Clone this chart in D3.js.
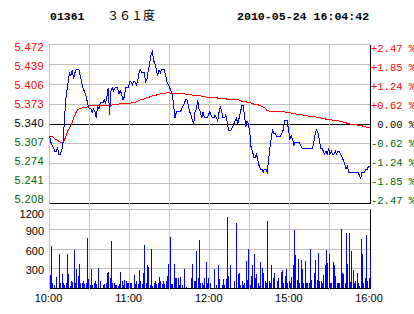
<!DOCTYPE html>
<html>
<head>
<meta charset="utf-8">
<script src="https://cdn.jsdelivr.net/npm/d3@7"></script>
<style>
  body { margin: 0; background: #fff; }
  svg { display: block; }
  text { font-family: "Liberation Sans", Arial, sans-serif; }
</style>
</head>
<body>
<svg id="chart" width="414" height="314"></svg>
<script>
// Intraday chart 01361 - minute prices, average price and volume
const stockCode = '01361';
const stockName = '３６１度';
const stamp = '2010-05-24 16:04:42';
const prevClose = 5.34;

const timeLabels = ['10:00', '11:00', '12:00', '15:00', '16:00'];
const timeLabelMinutes = [0, 60, 120, 180, 240];
const gridMinutes = [0, 30, 60, 90, 120, 150, 180, 210, 240];

const priceTicks = [5.472, 5.439, 5.406, 5.373, 5.340, 5.307, 5.274, 5.241, 5.208];
const pctTicks = ['+2.47 %', '+1.85 %', '+1.24 %', '+0.62 %', '\u00a00.00 %', '-0.62 %', '-1.24 %', '-1.85 %', '-2.47 %'];
const volTicks = [300, 600, 900, 1200];

// one value per trading minute (10:00-12:30, 14:30-16:00)
const prices = [
  5.32, 5.31, 5.305, 5.30, 5.295, 5.295, 5.30, 5.29, 5.29, 5.295,
  5.305, 5.34, 5.375, 5.395, 5.41, 5.425, 5.42, 5.43, 5.415, 5.425,
  5.43, 5.43, 5.43, 5.42, 5.41, 5.40, 5.395, 5.39, 5.38, 5.37,
  5.365, 5.365, 5.36, 5.365, 5.36, 5.35, 5.37, 5.365, 5.375, 5.375,
  5.375, 5.38, 5.375, 5.385, 5.40, 5.355, 5.395, 5.40, 5.395, 5.40,
  5.40, 5.40, 5.39, 5.395, 5.39, 5.38, 5.385, 5.40, 5.40, 5.40,
  5.41, 5.41, 5.405, 5.41, 5.41, 5.405, 5.41, 5.425, 5.43, 5.425,
  5.425, 5.425, 5.41, 5.415, 5.43, 5.44, 5.455, 5.46, 5.445, 5.44,
  5.43, 5.42, 5.43, 5.425, 5.43, 5.43, 5.43, 5.42, 5.41, 5.405,
  5.40, 5.395, 5.39, 5.37, 5.35, 5.36, 5.36, 5.36, 5.36, 5.365,
  5.37, 5.375, 5.38, 5.38, 5.37, 5.36, 5.355, 5.345, 5.34, 5.36,
  5.365, 5.38, 5.365, 5.36, 5.35, 5.36, 5.35, 5.35, 5.35, 5.355,
  5.36, 5.355, 5.35, 5.35, 5.355, 5.35, 5.345, 5.36, 5.37, 5.36,
  5.35, 5.35, 5.355, 5.345, 5.33, 5.33, 5.33, 5.335, 5.34, 5.345,
  5.35, 5.34, 5.35, 5.36, 5.37, 5.37, 5.355, 5.335, 5.345, 5.34,
  5.325, 5.30, 5.295, 5.285, 5.285, 5.29, 5.28, 5.27, 5.265, 5.265,
  5.26, 5.265, 5.265, 5.26, 5.28, 5.30, 5.315, 5.33, 5.325, 5.325,
  5.32, 5.32, 5.32, 5.32, 5.325, 5.33, 5.345, 5.345, 5.345, 5.33,
  5.315, 5.32, 5.315, 5.305, 5.31, 5.31, 5.31, 5.31, 5.305, 5.30,
  5.30, 5.30, 5.30, 5.30, 5.30, 5.30, 5.30, 5.30, 5.31, 5.325,
  5.33, 5.325, 5.315, 5.30, 5.30, 5.295, 5.29, 5.295, 5.29, 5.30,
  5.29, 5.295, 5.29, 5.29, 5.295, 5.29, 5.295, 5.295, 5.29, 5.285,
  5.28, 5.275, 5.265, 5.27, 5.26, 5.26, 5.26, 5.26, 5.26, 5.26,
  5.26, 5.26, 5.255, 5.25, 5.26, 5.26, 5.26, 5.265, 5.265, 5.27, 5.27
];

const avgPrices = [
  5.320, 5.320, 5.319, 5.318, 5.315, 5.314, 5.313, 5.311, 5.310, 5.310,
  5.310, 5.313, 5.318, 5.324, 5.330, 5.333, 5.337, 5.343, 5.349, 5.355,
  5.360, 5.363, 5.365, 5.366, 5.366, 5.367, 5.367, 5.368, 5.368, 5.369,
  5.370, 5.370, 5.370, 5.370, 5.370, 5.370, 5.370, 5.370, 5.370, 5.370,
  5.370, 5.370, 5.370, 5.370, 5.370, 5.370, 5.371, 5.372, 5.372, 5.372,
  5.373, 5.373, 5.373, 5.374, 5.374, 5.374, 5.374, 5.374, 5.374, 5.374,
  5.374, 5.375, 5.375, 5.376, 5.376, 5.377, 5.378, 5.379, 5.380, 5.381,
  5.381, 5.382, 5.383, 5.384, 5.384, 5.385, 5.386, 5.387, 5.387, 5.388,
  5.388, 5.389, 5.389, 5.390, 5.390, 5.390, 5.391, 5.391, 5.392, 5.392,
  5.392, 5.391, 5.391, 5.391, 5.391, 5.391, 5.390, 5.390, 5.390, 5.390,
  5.390, 5.390, 5.389, 5.389, 5.389, 5.389, 5.389, 5.388, 5.388, 5.388,
  5.387, 5.387, 5.387, 5.387, 5.386, 5.386, 5.385, 5.385, 5.384, 5.384,
  5.384, 5.384, 5.384, 5.384, 5.384, 5.384, 5.383, 5.383, 5.383, 5.383,
  5.382, 5.382, 5.382, 5.381, 5.381, 5.381, 5.381, 5.381, 5.380, 5.380,
  5.380, 5.380, 5.380, 5.379, 5.378, 5.378, 5.377, 5.377, 5.376, 5.376,
  5.375, 5.375, 5.374, 5.373, 5.373, 5.372, 5.372, 5.371, 5.370, 5.369,
  5.368, 5.367, 5.365, 5.362, 5.362, 5.361, 5.361, 5.361, 5.361, 5.360,
  5.360, 5.360, 5.360, 5.360, 5.360, 5.360, 5.360, 5.359, 5.359, 5.359,
  5.359, 5.358, 5.358, 5.357, 5.357, 5.356, 5.356, 5.356, 5.355, 5.355,
  5.355, 5.354, 5.354, 5.354, 5.353, 5.353, 5.353, 5.353, 5.353, 5.352,
  5.351, 5.351, 5.350, 5.350, 5.349, 5.349, 5.349, 5.348, 5.348, 5.348,
  5.347, 5.347, 5.346, 5.346, 5.346, 5.345, 5.345, 5.345, 5.344, 5.344,
  5.343, 5.342, 5.342, 5.341, 5.341, 5.340, 5.340, 5.340, 5.340, 5.339,
  5.339, 5.338, 5.338, 5.338, 5.337, 5.336, 5.336, 5.335, 5.335, 5.334, 5.334
];

const volumes = [
  200, 650, 90, 50, 0, 180, 0, 530, 80, 220,
  80, 50, 80, 520, 220, 40, 110, 100, 580, 80,
  300, 190, 370, 80, 90, 120, 70, 80, 770, 150,
  50, 300, 50, 80, 110, 70, 310, 0, 110, 0,
  60, 70, 80, 230, 250, 160, 720, 80, 80, 60,
  50, 40, 70, 250, 120, 50, 130, 110, 80, 80,
  80, 80, 0, 205, 70, 110, 70, 280, 110, 70,
  230, 660, 80, 355, 325, 50, 600, 40, 80, 120,
  70, 90, 175, 110, 70, 120, 70, 120, 190, 370,
  780, 70, 70, 370, 160, 155, 160, 60, 175, 50,
  0, 300, 30, 0, 0, 0, 160, 370, 120, 120,
  570, 160, 735, 80, 80, 50, 155, 395, 90, 155,
  80, 0, 0, 300, 0, 50, 355, 145, 0, 50,
  145, 50, 145, 1085, 190, 355, 0, 0, 120, 0,
  995, 220, 235, 60, 120, 50, 90, 415, 130, 600,
  50, 190, 355, 525, 160, 220, 80, 40, 395, 310,
  235, 120, 80, 1025, 120, 90, 355, 160, 235, 0,
  120, 160, 0, 250, 280, 80, 190, 295, 80, 110,
  90, 175, 355, 890, 510, 130, 450, 80, 435, 295,
  80, 415, 80, 80, 80, 600, 130, 0, 235, 435,
  130, 535, 120, 110, 80, 205, 355, 585, 380, 525,
  80, 90, 400, 355, 190, 80, 80, 80, 905, 235,
  220, 80, 845, 370, 845, 100, 570, 280, 80, 120,
  235, 80, 40, 750, 525, 80, 160, 810, 110, 160, 510
];

const svg = d3.select('#chart');
const x = d3.scaleLinear().domain([0, 240]).range([49.5, 370]);
const y = d3.scaleLinear().domain([5.208, 5.472]).range([203.5, 44.5]);
const yv = d3.scaleLinear().domain([0, 1200]).range([288.5, 209.5]);
const snap = v => Math.floor(v) + 0.5;

const GRID = '#c0c0c0', RED = '#ff0000', GREEN = '#006400', BLUE = '#0000ff';
const labelColor = p => p > prevClose + 1e-9 ? RED : (p < prevClose - 1e-9 ? GREEN : '#000');

// title row
svg.append('text').attr('x', 50).attr('y', 20)
  .style('font-family', '"Liberation Mono", monospace').style('font-weight', 'bold')
  .style('font-size', '11.5px').text(stockCode);
svg.append('text').attr('x', 107).attr('y', 20)
  .style('font-family', '"Noto Sans CJK SC", sans-serif').style('font-size', '12px')
  .text(stockName);
svg.append('text').attr('x', 237).attr('y', 20)
  .style('font-family', '"Liberation Mono", monospace').style('font-weight', 'bold')
  .style('font-size', '11.6px').text(stamp);

// price panel grid
const grid = svg.append('g').attr('shape-rendering', 'crispEdges');
grid.selectAll('.hp').data(priceTicks).enter().append('line')
  .attr('x1', 49).attr('x2', 371)
  .attr('y1', d => snap(y(d))).attr('y2', d => snap(y(d)))
  .attr('stroke', (d, i) => (i === priceTicks.length - 1 || Math.abs(d - prevClose) < 1e-9) ? '#000' : GRID);
grid.selectAll('.vp').data(gridMinutes).enter().append('line')
  .attr('x1', d => snap(x(d))).attr('x2', d => snap(x(d)))
  .attr('y1', 44.5).attr('y2', 203.5)
  .attr('stroke', d => d === 240 ? '#000' : GRID);

// volume panel grid
grid.selectAll('.hv').data([0].concat(volTicks)).enter().append('line')
  .attr('x1', 49).attr('x2', 371)
  .attr('y1', d => Math.round(yv(d) - 0.5) + 0.5).attr('y2', d => Math.round(yv(d) - 0.5) + 0.5)
  .attr('stroke', d => d === 0 ? '#000' : GRID);
grid.selectAll('.vv').data(gridMinutes).enter().append('line')
  .attr('x1', d => snap(x(d))).attr('x2', d => snap(x(d)))
  .attr('y1', 209.5).attr('y2', 288.5)
  .attr('stroke', d => d === 240 ? '#000' : GRID);

// left price labels
svg.selectAll('.pl').data(priceTicks).enter().append('text')
  .attr('x', 44).attr('y', (d, i) => 51 + i * 19)
  .attr('text-anchor', 'end')
  .style('font-size', '11px').style('letter-spacing', '0.4px')
  .attr('fill', d => labelColor(d))
  .text(d => d.toFixed(3));

// right percent labels
svg.selectAll('.rl').data(pctTicks).enter().append('text')
  .attr('x', 371).attr('y', (d, i) => 51.5 + i * 19)
  .style('font-family', '"Liberation Mono", monospace').style('font-size', '10.5px')
  .attr('fill', (d, i) => labelColor(priceTicks[i]))
  .text(d => d);

// volume labels
svg.selectAll('.vl').data(volTicks).enter().append('text')
  .attr('x', 44).attr('y', d => Math.max(yv(d) + 1.5, 213.5) + 4)
  .attr('text-anchor', 'end')
  .style('font-size', '11px')
  .text(d => d);

// time labels
svg.selectAll('.tl').data(timeLabels).enter().append('text')
  .attr('x', (d, i) => x(timeLabelMinutes[i]) - 1).attr('y', 302)
  .attr('text-anchor', 'middle')
  .style('font-size', '11px')
  .text(d => d);

// volume bars
svg.append('g').attr('shape-rendering', 'crispEdges')
  .selectAll('rect').data(volumes.map((v, m) => ({ m, v })).filter(d => d.v > 0))
  .enter().append('rect')
  .attr('x', d => Math.round(x(d.m)))
  .attr('width', 1)
  .attr('y', d => yv(d.v))
  .attr('height', d => 288 - yv(d.v))
  .attr('fill', BLUE);

// average and price lines
const line = d3.line().x((d, i) => x(i)).y(d => y(d));
svg.append('path').datum(avgPrices)
  .attr('d', line).attr('fill', 'none').attr('stroke', RED).attr('stroke-width', 1)
  .attr('shape-rendering', 'crispEdges');
svg.append('path').datum(prices)
  .attr('d', line).attr('fill', 'none').attr('stroke', BLUE).attr('stroke-width', 1)
  .attr('shape-rendering', 'crispEdges');
</script>
</body>
</html>
